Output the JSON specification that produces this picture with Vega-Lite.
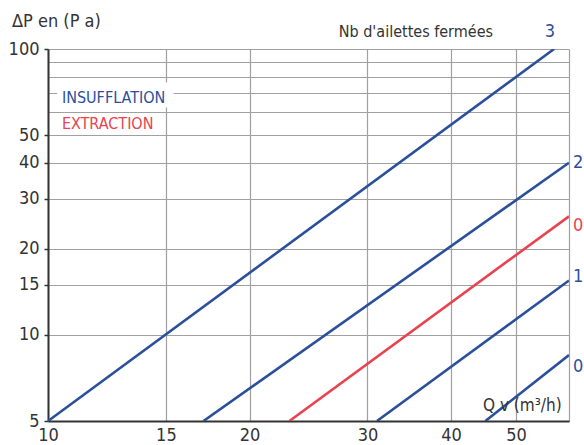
{
  "$schema": "https://vega.github.io/schema/vega-lite/v6.json",
  "autosize": "none",
  "width": 521,
  "height": 372,
  "padding": {"left": 48, "top": 49, "right": 15, "bottom": 24},
  "config": {
    "font": "Liberation Sans Narrow, DejaVu Sans Condensed, sans-serif",
    "view": {"stroke": null}
  },
  "datasets": {
    "lines": [
      {"id": "3", "type": "INSUFFLATION", "q": 10, "dp": 5},
      {"id": "3", "type": "INSUFFLATION", "q": 57, "dp": 100},
      {"id": "2", "type": "INSUFFLATION", "q": 17.07, "dp": 5},
      {"id": "2", "type": "INSUFFLATION", "q": 60, "dp": 40},
      {"id": "0e", "type": "EXTRACTION", "q": 22.94, "dp": 5},
      {"id": "0e", "type": "EXTRACTION", "q": 60, "dp": 26},
      {"id": "1", "type": "INSUFFLATION", "q": 31, "dp": 5},
      {"id": "1", "type": "INSUFFLATION", "q": 60, "dp": 15.5},
      {"id": "0i", "type": "INSUFFLATION", "q": 45, "dp": 5},
      {"id": "0i", "type": "INSUFFLATION", "q": 60, "dp": 8.5}
    ],
    "endLabels": [
      {"label": "3", "type": "INSUFFLATION", "q": 56.2, "dp": 100, "pos": "top"},
      {"label": "2", "type": "INSUFFLATION", "q": 60, "dp": 40, "pos": "right"},
      {"label": "0", "type": "EXTRACTION", "q": 60, "dp": 24, "pos": "right"},
      {"label": "1", "type": "INSUFFLATION", "q": 60, "dp": 15.9, "pos": "right"},
      {"label": "0", "type": "INSUFFLATION", "q": 60, "dp": 7.7, "pos": "right"}
    ],
    "legendText": [
      {"label": "INSUFFLATION", "type": "INSUFFLATION", "q": 10.49, "dp": 67.6},
      {"label": "EXTRACTION", "type": "EXTRACTION", "q": 10.49, "dp": 54.7}
    ],
    "mask": [
      {"q1": 10.32, "q2": 15.4, "dp1": 62.4, "dp2": 76.3}
    ]
  },
  "layer": [
    {
      "data": {"name": "mask"},
      "mark": {"type": "rect", "fill": "white", "stroke": null},
      "encoding": {
        "x": {"field": "q1", "type": "quantitative", "scale": {"type": "log", "domain": [10, 60], "nice": false},
          "axis": {
            "values": [10, 15, 20, 30, 40, 50, 60],
            "labelExpr": "datum.value == 60 ? '' : datum.label",
            "labelFlush": false,
            "title": null,
            "grid": true,
            "gridColor": "#a0a0a0",
            "gridWidth": 1.2,
            "domainColor": "#333333",
            "domainWidth": 2,
            "ticks": false,
            "labelFontSize": 18,
            "labelColor": "#333333",
            "labelPadding": 5
          }
        },
        "x2": {"field": "q2"},
        "y": {"field": "dp1", "type": "quantitative", "scale": {"type": "log", "domain": [5, 100], "nice": false},
          "axis": {
            "values": [5, 10, 15, 20, 30, 40, 50, 60, 70, 80, 90, 100],
            "labelExpr": "(datum.value > 55 && datum.value < 95) ? '' : datum.label",
            "labelFlush": false,
            "title": null,
            "grid": true,
            "gridColor": "#a0a0a0",
            "gridWidth": 1.2,
            "domainColor": "#333333",
            "domainWidth": 2,
            "tickColor": "#333333",
            "tickSize": 4,
            "tickWidth": 1.5,
            "tickOpacity": {"condition": {"test": "datum.value > 55 && datum.value < 95", "value": 0}, "value": 1},
            "labelFontSize": 18,
            "labelColor": "#333333",
            "labelPadding": 5
          }
        },
        "y2": {"field": "dp2"}
      }
    },
    {
      "data": {"name": "lines"},
      "mark": {"type": "line", "strokeWidth": 2.6, "clip": true},
      "encoding": {
        "x": {"field": "q", "type": "quantitative"},
        "y": {"field": "dp", "type": "quantitative"},
        "detail": {"field": "id"},
        "color": {"field": "type", "type": "nominal", "scale": {"domain": ["INSUFFLATION", "EXTRACTION"], "range": ["#2c4f9c", "#e8434f"]}, "legend": null}
      }
    },
    {
      "data": {"name": "endLabels"},
      "transform": [{"filter": "datum.pos == 'right'"}],
      "mark": {"type": "text", "align": "left", "baseline": "middle", "dx": 4, "fontSize": 18},
      "encoding": {
        "x": {"field": "q", "type": "quantitative"},
        "y": {"field": "dp", "type": "quantitative"},
        "text": {"field": "label"},
        "color": {"field": "type", "type": "nominal", "legend": null}
      }
    },
    {
      "data": {"name": "endLabels"},
      "transform": [{"filter": "datum.pos == 'top'"}],
      "mark": {"type": "text", "align": "center", "baseline": "middle", "dy": -17, "fontSize": 18},
      "encoding": {
        "x": {"field": "q", "type": "quantitative"},
        "y": {"field": "dp", "type": "quantitative"},
        "text": {"field": "label"},
        "color": {"field": "type", "type": "nominal", "legend": null}
      }
    },
    {
      "data": {"name": "legendText"},
      "mark": {"type": "text", "align": "left", "baseline": "middle", "fontSize": 16},
      "encoding": {
        "x": {"field": "q", "type": "quantitative"},
        "y": {"field": "dp", "type": "quantitative"},
        "text": {"field": "label"},
        "color": {"field": "type", "type": "nominal", "legend": null}
      }
    },
    {
      "data": {"values": [{"label": "ΔP en (P a)", "q": 10, "dp": 100}]},
      "mark": {"type": "text", "align": "left", "baseline": "middle", "dx": -36, "dy": -27, "fontSize": 18, "color": "#333333"},
      "encoding": {
        "x": {"field": "q", "type": "quantitative"},
        "y": {"field": "dp", "type": "quantitative"},
        "text": {"field": "label"}
      }
    },
    {
      "data": {"values": [{"label": "Nb d'ailettes fermées", "q": 46.2, "dp": 100}]},
      "mark": {"type": "text", "align": "right", "baseline": "middle", "dy": -17, "fontSize": 16, "color": "#333333"},
      "encoding": {
        "x": {"field": "q", "type": "quantitative"},
        "y": {"field": "dp", "type": "quantitative"},
        "text": {"field": "label"}
      }
    },
    {
      "data": {"values": [{"label": "Q v (m³/h)", "q": 58.5, "dp": 5.63}]},
      "mark": {"type": "text", "align": "right", "baseline": "middle", "fontSize": 17, "color": "#333333"},
      "encoding": {
        "x": {"field": "q", "type": "quantitative"},
        "y": {"field": "dp", "type": "quantitative"},
        "text": {"field": "label"}
      }
    }
  ]
}
